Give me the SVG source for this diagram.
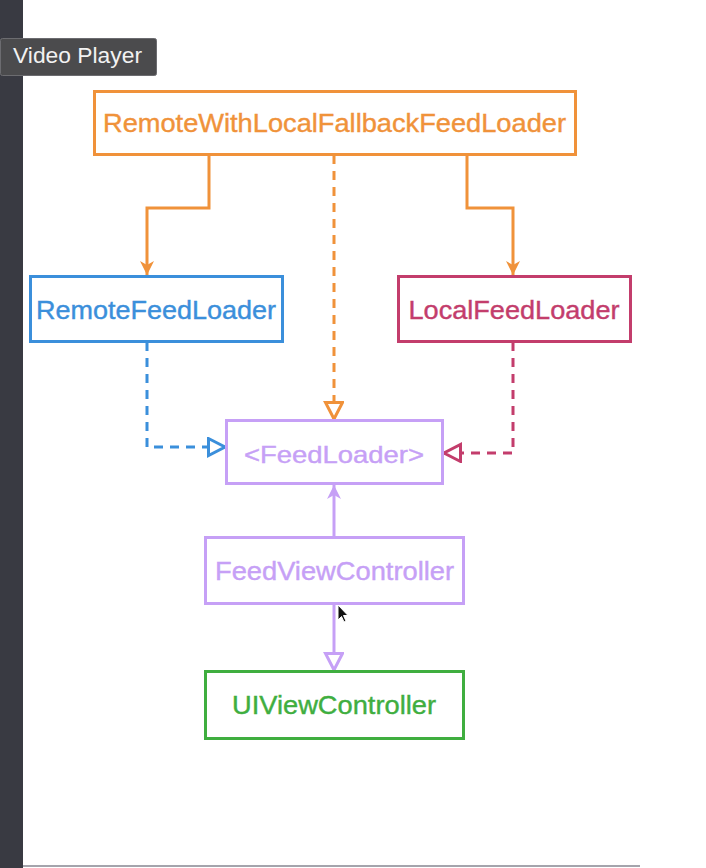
<svg xmlns="http://www.w3.org/2000/svg" width="706" height="868" viewBox="0 0 706 868">
<style>
.box{fill:#fff;stroke-width:3}
.lbl{font-family:"Liberation Sans",Arial,sans-serif;font-size:26px;text-anchor:middle;stroke-width:0.4}
.ln{fill:none;stroke-width:3}
.dash{stroke-dasharray:9 7}
</style>
<defs>
<marker id="arO" markerUnits="userSpaceOnUse" markerWidth="16" markerHeight="16" refX="14" refY="8" orient="auto"><path d="M0,1 L14,8 L0,15 L4,8 z" fill="#f0923a"/></marker>
<marker id="arP" markerUnits="userSpaceOnUse" markerWidth="16" markerHeight="16" refX="14" refY="8" orient="auto"><path d="M0,1 L14,8 L0,15 L4,8 z" fill="#c6a0f6"/></marker>
<marker id="triO" markerUnits="userSpaceOnUse" markerWidth="22" markerHeight="22" refX="18" refY="10" orient="auto"><path d="M1.5,1.5 L18,10 L1.5,18.5 z" fill="#fff" stroke="#f0923a" stroke-width="3"/></marker>
<marker id="triB" markerUnits="userSpaceOnUse" markerWidth="22" markerHeight="22" refX="18" refY="10" orient="auto"><path d="M1.5,1.5 L18,10 L1.5,18.5 z" fill="#fff" stroke="#3b8fdb" stroke-width="3"/></marker>
<marker id="triR" markerUnits="userSpaceOnUse" markerWidth="22" markerHeight="22" refX="18" refY="10" orient="auto"><path d="M1.5,1.5 L18,10 L1.5,18.5 z" fill="#fff" stroke="#c33d6c" stroke-width="3"/></marker>
<marker id="triP" markerUnits="userSpaceOnUse" markerWidth="22" markerHeight="22" refX="18" refY="10" orient="auto"><path d="M1.5,1.5 L18,10 L1.5,18.5 z" fill="#fff" stroke="#c6a0f6" stroke-width="3"/></marker>
</defs>
<rect x="0" y="0" width="706" height="868" fill="#fff"/>
<rect x="0" y="0" width="23" height="868" fill="#393a42"/>
<rect x="23" y="865" width="617" height="2" fill="#a4a4ac"/>

<g id="connectors">
<path class="ln" stroke="#f0923a" d="M209,155 V208 H147 V275" marker-end="url(#arO)"/>
<path class="ln" stroke="#f0923a" d="M467,155 V208 H513 V275" marker-end="url(#arO)"/>
<path class="ln dash" stroke="#f0923a" d="M334,155 V419" marker-end="url(#triO)"/>
<path class="ln dash" stroke="#3b8fdb" d="M147,342 V447 H225" marker-end="url(#triB)"/>
<path class="ln dash" stroke="#c33d6c" d="M513,342 V453 H444" marker-end="url(#triR)"/>
<path class="ln" stroke="#c6a0f6" d="M334,537 V485" marker-end="url(#arP)"/>
<path class="ln" stroke="#c6a0f6" d="M334,604 V670" marker-end="url(#triP)"/>
</g>

<g id="node-fallback">
<rect class="box" x="94.5" y="91.5" width="481" height="63" stroke="#f0923a"/>
<text class="lbl" x="334.5" y="132" fill="#f0923a" stroke="#f0923a" textLength="463" lengthAdjust="spacingAndGlyphs">RemoteWithLocalFallbackFeedLoader</text>
</g>
<g id="node-remote">
<rect class="box" x="30.5" y="276.5" width="252" height="65" stroke="#3b8fdb"/>
<text class="lbl" x="156" y="319" fill="#3b8fdb" stroke="#3b8fdb" textLength="240" lengthAdjust="spacingAndGlyphs">RemoteFeedLoader</text>
</g>
<g id="node-local">
<rect class="box" x="398.5" y="276.5" width="232" height="65" stroke="#c33d6c"/>
<text class="lbl" x="514" y="319" fill="#c33d6c" stroke="#c33d6c" textLength="211" lengthAdjust="spacingAndGlyphs">LocalFeedLoader</text>
</g>
<g id="node-feedloader">
<rect class="box" x="226.5" y="420.5" width="216" height="63" stroke="#c6a0f6"/>
<text class="lbl" x="334" y="463" fill="#c6a0f6" stroke="#c6a0f6" style="font-size:24px" textLength="180" lengthAdjust="spacingAndGlyphs">&lt;FeedLoader&gt;</text>
</g>
<g id="node-feedvc">
<rect class="box" x="205.5" y="537.5" width="258" height="66" stroke="#c6a0f6"/>
<text class="lbl" x="334.5" y="580" fill="#c6a0f6" stroke="#c6a0f6" textLength="239" lengthAdjust="spacingAndGlyphs">FeedViewController</text>
</g>
<g id="node-uivc">
<rect class="box" x="205.5" y="671.5" width="258" height="67" stroke="#3fae3f"/>
<text class="lbl" x="334" y="714" fill="#3fae3f" stroke="#3fae3f" textLength="204" lengthAdjust="spacingAndGlyphs">UIViewController</text>
</g>

<path d="M338,605 L338,620 L341.5,616.5 L344,622 L346,621 L343.5,615.5 L348,615.5 z" fill="#111" stroke="#fff" stroke-width="1"/>

<g id="tooltip">
<rect x="0.5" y="38.5" width="156" height="37" rx="2" fill="#4b4b4d" stroke="#6c6c70"/>
<text x="13" y="63" fill="#f2f2f2" style="font-family:'Liberation Sans',Arial,sans-serif;font-size:22px" textLength="129" lengthAdjust="spacingAndGlyphs">Video Player</text>
</g>
</svg>
